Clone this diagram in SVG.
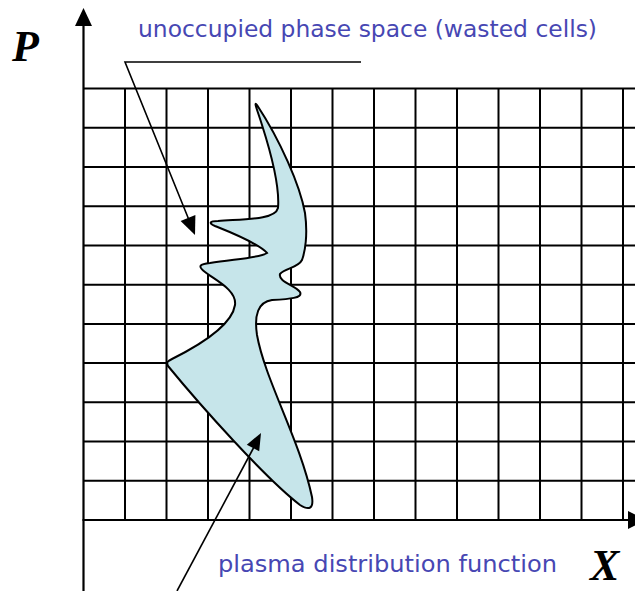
<svg xmlns="http://www.w3.org/2000/svg" width="635" height="591" viewBox="0 0 635 591">
<style>
.grid{stroke:#000;stroke-width:2;fill:none}
.axis{stroke:#000;stroke-width:2.2;fill:none}
.lead{stroke:#000;stroke-width:1.6;fill:none}
.lbl{font-family:"DejaVu Sans","Liberation Sans",sans-serif;font-size:22.5px;fill:#4747b3}
.ax{font-family:"Liberation Serif",serif;font-size:44px;font-weight:bold;font-style:italic;fill:#000}
</style>
<rect width="635" height="591" fill="#fff"/>
<g id="grid" class="grid">
<path d="M125,88.5V520M166.5,88.5V520M208,88.5V520M249.5,88.5V520M291,88.5V520M332.5,88.5V520M374,88.5V520M415.5,88.5V520M457,88.5V520M498.5,88.5V520M540,88.5V520M581.5,88.5V520M623,88.5V520"/>
<path d="M83.5,88.5H635M83.5,127.7H635M83.5,167H635M83.5,206.2H635M83.5,245.4H635M83.5,284.7H635M83.5,323.9H635M83.5,363.1H635M83.5,402.3H635M83.5,441.6H635M83.5,480.8H635"/>
</g>
<g id="blob">
<path d="M257,105 C280,140 300,185 305,213 C308,235 305,252 302,260 C298,268 285,268 280,274 C278,282 295,285 300,292 C303,298 290,299 272,300 C258,302 254,315 257,335 C265,380 300,440 312,497 C314,510 308,510 300,505 C265,478 200,405 168,366 C166,362 168,361 172,359 C200,345 232,325 235,305 C237,290 215,280 205,272 C197,266 200,264 210,263 C235,259 260,258 267,253 C258,243 230,232 215,226 C208,223 210,221 218,221 C245,219 275,220 278,208 C280,185 270,150 262,125 C258,112 253,100 257,105 Z" fill="#c6e5ea" stroke="#000" stroke-width="2"/>
</g>
<g id="axes">
<path class="axis" d="M83.5,22V591"/>
<polygon points="83.5,8 75,26 92,26" fill="#000"/>
<path class="axis" d="M82.5,520H630"/>
<polygon points="628,511 646,520 628,529" fill="#000"/>
</g>
<g id="connectors">
<path class="lead" d="M361,62H125L189,220"/>
<polygon points="195,235 180.6,221 195.4,215" fill="#000"/>
<path class="lead" d="M177,591L254,447"/>
<polygon points="261,433 246.8,444.7 259.2,451.3" fill="#000"/>
</g>
<g id="labels">
<text class="ax" x="12" y="61">P</text>
<text class="ax" x="590" y="580" font-size="40">X</text>
<text class="lbl" x="138" y="37" textLength="459" lengthAdjust="spacingAndGlyphs">unoccupied phase space (wasted cells)</text>
<text class="lbl" x="218" y="572" textLength="339" lengthAdjust="spacingAndGlyphs">plasma distribution function</text>
</g>
</svg>
